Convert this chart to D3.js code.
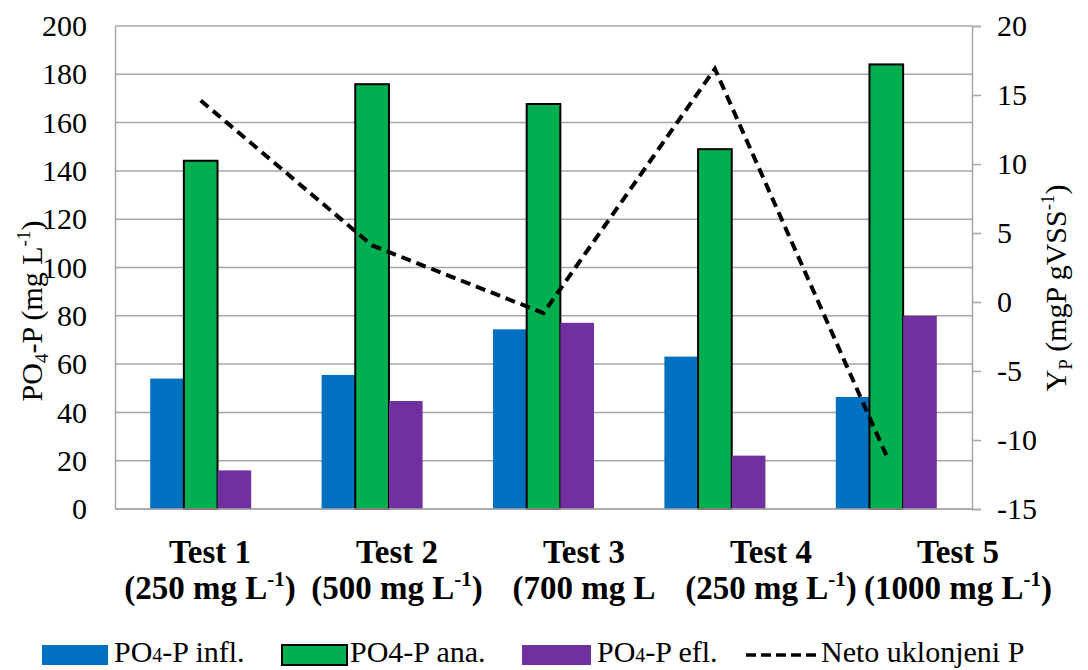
<!DOCTYPE html>
<html><head><meta charset="utf-8">
<script src="https://cdn.jsdelivr.net/npm/d3@7"></script>
<style>
html,body{margin:0;padding:0;background:#fff;}
text{font-family:"Liberation Serif","Times New Roman",serif;}
</style></head>
<body><svg id="c" width="1088" height="670"></svg>
<script>
const categories = ["Test 1","Test 2","Test 3","Test 4","Test 5"];
const subLabels = ["(250 mg L","(500 mg L","(700 mg L","(250 mg L","(1000 mg L"];
const subLabelSup = [true, true, false, true, true];
const infl = [54, 55.5, 74.4, 63.1, 46.4];
const ana = [144.2, 175.9, 167.7, 149, 184.1];
const efl = [16, 44.7, 77.1, 22.1, 80];
const neto = [14.6, 4.1, -0.8, 16.9, -11.1];
const leftTicks = [0,20,40,60,80,100,120,140,160,180,200];
const rightTicks = [-15,-10,-5,0,5,10,15,20];
const colors = ["#0070C0","#00B050","#7030A0"];

const svg = d3.select("#c");
const L = 115, R = 972, T = 26, B = 509;
const x = d3.scaleBand().domain(categories).range([L, R]);
const xs = d3.scaleBand().domain([0,1,2]).range([0, 101]);
const groupOff = (x.bandwidth() - 101) / 2;
const y = d3.scaleLinear().domain([0, 200]).range([B, T]);
const yR = d3.scaleLinear().domain([-15, 20]).range([B, T]);
const xl = d3.scalePoint().domain(categories).range([210, 958]);

// gridlines
svg.append("g").selectAll("line").data(leftTicks).join("line")
  .attr("x1", L).attr("x2", R).attr("y1", d => y(d)).attr("y2", d => y(d))
  .attr("stroke", "#a6a6a6").attr("stroke-width", 1.5);

// left axis
const gl = svg.append("g").attr("transform", `translate(${L},0)`)
  .call(d3.axisLeft(y).tickValues(leftTicks).tickSize(0).tickPadding(28));
gl.select(".domain").attr("stroke", "#a6a6a6").attr("stroke-width", 1.5);
gl.selectAll("text").attr("font-size", 30).attr("fill", "#000");

// right axis
const gr = svg.append("g").attr("transform", `translate(${R},0)`)
  .call(d3.axisRight(yR).tickValues(rightTicks).tickSize(9).tickPadding(16));
gr.select(".domain").attr("stroke", "#a6a6a6").attr("stroke-width", 1.5);
gr.selectAll(".tick line").attr("stroke", "#a6a6a6").attr("stroke-width", 1.5);
gr.selectAll("text").attr("font-size", 30).attr("fill", "#000")
  .text(d => d < 0 ? "-" + Math.abs(d) : d);

// bars
const data = [infl, ana, efl];
data.forEach((arr, si) => {
  svg.append("g").selectAll("rect").data(arr).join("rect")
    .attr("x", (d, i) => x(categories[i]) + groupOff + xs(si))
    .attr("width", xs.bandwidth())
    .attr("y", d => y(d))
    .attr("height", d => y(0) - y(d))
    .attr("fill", colors[si])
    .attr("stroke", si === 1 ? "#000" : "none")
    .attr("stroke-width", si === 1 ? 2 : 0);
});

// line
const line = d3.line().x((d, i) => x(categories[i]) + x.bandwidth() / 2).y(d => yR(d));
svg.append("path").datum(neto).attr("d", line).attr("fill", "none")
  .attr("stroke", "#000").attr("stroke-width", 4).attr("stroke-dasharray", "10,6");

// bottom axis line
svg.append("line").attr("x1", L).attr("x2", R).attr("y1", B).attr("y2", B)
  .attr("stroke", "#a6a6a6").attr("stroke-width", 1.5);

// category labels
const cl = svg.append("g");
categories.forEach((c, i) => {
  cl.append("text").attr("x", xl(c)).attr("y", 563).attr("text-anchor", "middle")
    .attr("font-size", 33).attr("font-weight", "bold").text(c);
  const t = cl.append("text").attr("x", xl(c)).attr("y", 599).attr("text-anchor", "middle")
    .attr("font-size", 33).attr("font-weight", "bold");
  t.append("tspan").text(subLabels[i]);
  if (subLabelSup[i]) {
    t.append("tspan").attr("font-size", 21).attr("dy", -13).text("-1");
    t.append("tspan").attr("dy", 13).text(")");
  }
});

// left title
const lt = svg.append("text").attr("transform", "translate(42,311) rotate(-90)")
  .attr("text-anchor", "middle").attr("font-size", 30);
lt.append("tspan").text("PO");
lt.append("tspan").attr("font-size", 19).attr("dy", 6).text("4");
lt.append("tspan").attr("dy", -6).text("-P (mg L");
lt.append("tspan").attr("font-size", 19).attr("dy", -12).text("-1");
lt.append("tspan").attr("dy", 12).text(")");

// right title
const rt = svg.append("text").attr("transform", "translate(1066,288) rotate(-90)")
  .attr("text-anchor", "middle").attr("font-size", 30);
rt.append("tspan").text("Y");
rt.append("tspan").attr("font-size", 19).attr("dy", 6).text("P");
rt.append("tspan").attr("dy", -6).text(" (mgP gVSS");
rt.append("tspan").attr("font-size", 19).attr("dy", -12).text("-1");
rt.append("tspan").attr("dy", 12).text(")");

// legend
const leg = svg.append("g");
const legItems = [
  {type: "rect", color: colors[0], sx: 42, sw: 66, tx: 114, parts: [["PO",0],["4",1],["-P infl.",0]]},
  {type: "rect", color: colors[1], sx: 282, sw: 65, tx: 350, parts: [["PO4-P ana.",0]]},
  {type: "rect", color: colors[2], sx: 522, sw: 69, tx: 597, parts: [["PO",0],["4",1],["-P efl.",0]]},
  {type: "line", sx: 746, sw: 71, tx: 821, parts: [["Neto uklonjeni P",0]]}
];
legItems.forEach((it, k) => {
  if (it.type === "rect") {
    leg.append("rect").attr("x", it.sx).attr("y", 645).attr("width", it.sw).attr("height", 20)
      .attr("fill", it.color).attr("stroke", k === 1 ? "#000" : "none").attr("stroke-width", 2);
  } else {
    leg.append("line").attr("x1", it.sx).attr("x2", it.sx + it.sw).attr("y1", 655).attr("y2", 655)
      .attr("stroke", "#000").attr("stroke-width", 3.5).attr("stroke-dasharray", "10,5");
  }
  const t = leg.append("text").attr("x", it.tx).attr("y", 662).attr("font-size", 30);
  it.parts.forEach(p => {
    const s = t.append("tspan").text(p[0]);
    if (p[1]) s.attr("font-size", 20);
  });
});
</script></body></html>
